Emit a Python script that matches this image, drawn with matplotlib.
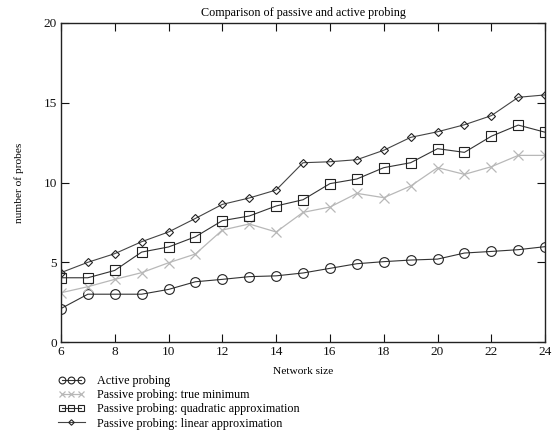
import matplotlib
matplotlib.use("Agg")
import matplotlib.pyplot as plt
from matplotlib.legend_handler import HandlerLine2D

plt.rcParams['font.family'] = ['Liberation Serif', 'DejaVu Serif']

network_size = list(range(6, 25))
active = [2.1, 3.0, 3.0, 3.0, 3.3, 3.78, 3.93, 4.1, 4.15, 4.33, 4.62, 4.91, 5.04, 5.14, 5.2, 5.58, 5.68, 5.79, 5.98]
true_min = [3.09, 3.47, 3.93, 4.35, 4.97, 5.52, 7.02, 7.4, 6.9, 8.13, 8.46, 9.32, 9.05, 9.78, 10.93, 10.51, 10.99, 11.7, 11.7]
quadratic = [4.03, 4.03, 4.49, 5.64, 5.96, 6.6, 7.61, 7.9, 8.53, 8.92, 9.93, 10.22, 10.93, 11.24, 12.12, 11.89, 12.9, 13.6, 13.15]
linear = [4.35, 5.0, 5.54, 6.29, 6.9, 7.75, 8.63, 9.03, 9.53, 11.24, 11.3, 11.43, 12.02, 12.83, 13.18, 13.62, 14.19, 15.34, 15.49]

labels = ["Active probing", "Passive probing: true minimum",
          "Passive probing: quadratic approximation", "Passive probing: linear approximation"]
xticks = list(range(6, 25, 2))
yticks = [0, 5, 10, 15, 20]

fig = plt.figure(figsize=(5.54, 4.33), dpi=100)
ax = fig.add_axes([0.110, 0.210, 0.874, 0.737])

l1, = ax.plot(network_size, active, color='#333333', lw=0.8, marker='o', ms=7,
              mfc='none', mec='#222222', mew=0.8, label=labels[0])
l2, = ax.plot(network_size, true_min, color='#b8b8b8', lw=0.9, marker='x', ms=7,
              mec='#b8b8b8', mew=0.9, label=labels[1])
l3, = ax.plot(network_size, quadratic, color='#333333', lw=0.8, marker='s', ms=6.5,
              mfc='none', mec='#222222', mew=0.8, label=labels[2])
l4, = ax.plot(network_size, linear, color='#444444', lw=0.8, marker='D', ms=4,
              mfc='none', mec='#222222', mew=0.8, label=labels[3])

ax.set_xlim(6, 24)
ax.set_ylim(0, 20)
ax.set_xticks(xticks)
ax.set_yticks(yticks)
ax.tick_params(direction='in', top=True, right=True, length=6, width=0.8,
               labelsize=9.5, pad=3, colors='#111111')
for s in ax.spines.values():
    s.set_linewidth(1.0)
    s.set_color('#222222')

ax.set_title("Comparison of passive and active probing", fontsize=8.7, pad=5)
ax.set_xlabel("Network size", fontsize=8.2, labelpad=6)
ax.set_ylabel("number of probes", fontsize=8.2, labelpad=14)

fig.legend(handles=[l1, l2, l3, l4], loc='upper left',
           bbox_to_anchor=(0.105, 0.134), frameon=False, fontsize=8.7,
           numpoints=3, markerscale=0.7, handlelength=2.2, handletextpad=1.0,
           labelspacing=0.18, borderaxespad=0, borderpad=0,
           handler_map={l4: HandlerLine2D(numpoints=1)})

fig.savefig("out.png", dpi=100)
